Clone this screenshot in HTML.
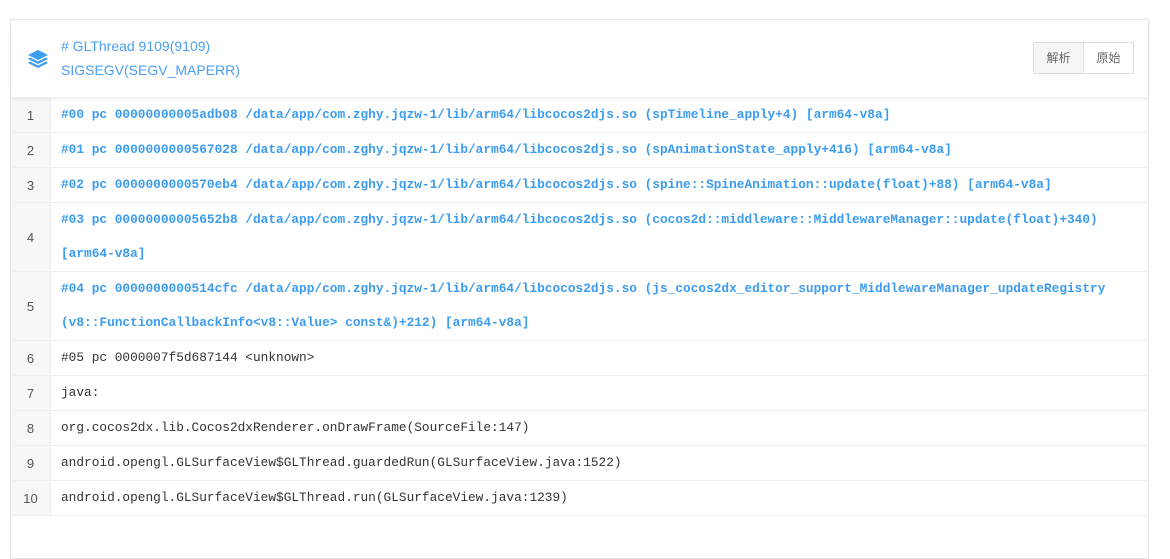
<!DOCTYPE html>
<html><head><meta charset="utf-8"><style>
html,body{margin:0;width:1170px;height:530px;background:#fff;overflow:hidden;font-family:"Liberation Sans","Noto Sans CJK SC",sans-serif;}
.card{position:absolute;left:10px;top:19px;width:1139px;height:540px;border:1px solid #e8e8e8;box-sizing:border-box;}
.hdr{position:absolute;left:0;top:0;width:1137px;height:77px;background:#fff;box-shadow:0 2px 4px rgba(0,0,0,0.08);z-index:2;}
.t1{position:absolute;left:50px;top:18px;font-size:14px;color:#4a9ff0;}
.t2{position:absolute;left:50px;top:42px;font-size:14px;color:#4a9ff0;}
.ico{position:absolute;left:17px;top:30px;}
.btns{position:absolute;left:1022px;top:22px;height:30px;border:1px solid #ddd;border-radius:2px;display:flex;font-size:12px;color:#666;}
.btns div{width:49px;line-height:30px;text-align:center}
.btns div:first-child{background:#f6f6f6;border-right:1px solid #e2e2e2}
.rows{position:absolute;left:0;top:78px;width:1137px;}
.r{display:flex;border-bottom:1px solid #eee;}
.n{width:39px;background:#f7f7f7;border-right:1px solid #eee;font-size:13px;color:#555;text-align:center;display:flex;align-items:center;justify-content:center;}
.c{padding-left:10px;font-family:"Liberation Mono",monospace;font-size:12.8px;color:#333;line-height:34px;white-space:pre;}
.b{color:#3b9cf0;font-weight:bold;}
</style></head><body>
<div class="card">
<div class="hdr">
<svg class="ico" width="20" height="18" viewBox="0 0 20 18"><path d="M10 0 L20 5 L10 10 L0 5Z" fill="#3b9cf0"/><path d="M2 7.5 L10 11.5 L18 7.5 L20 9 L10 14 L0 9Z" fill="#3b9cf0"/><path d="M2 11.5 L10 15.5 L18 11.5 L20 13 L10 18 L0 13Z" fill="#3b9cf0"/></svg>
<div class="t1"># GLThread 9109(9109)</div>
<div class="t2">SIGSEGV(SEGV_MAPERR)</div>
<div class="btns"><div>解析</div><div>原始</div></div>
</div>
<div class="rows">
<div class="r"><div class="n">1</div><div class="c b">#00 pc 00000000005adb08 /data/app/com.zghy.jqzw-1/lib/arm64/libcocos2djs.so (spTimeline_apply+4) [arm64-v8a]</div></div>
<div class="r"><div class="n">2</div><div class="c b">#01 pc 0000000000567028 /data/app/com.zghy.jqzw-1/lib/arm64/libcocos2djs.so (spAnimationState_apply+416) [arm64-v8a]</div></div>
<div class="r"><div class="n">3</div><div class="c b">#02 pc 0000000000570eb4 /data/app/com.zghy.jqzw-1/lib/arm64/libcocos2djs.so (spine::SpineAnimation::update(float)+88) [arm64-v8a]</div></div>
<div class="r"><div class="n">4</div><div class="c b">#03 pc 00000000005652b8 /data/app/com.zghy.jqzw-1/lib/arm64/libcocos2djs.so (cocos2d::middleware::MiddlewareManager::update(float)+340)
[arm64-v8a]</div></div>
<div class="r"><div class="n">5</div><div class="c b">#04 pc 0000000000514cfc /data/app/com.zghy.jqzw-1/lib/arm64/libcocos2djs.so (js_cocos2dx_editor_support_MiddlewareManager_updateRegistry
(v8::FunctionCallbackInfo&lt;v8::Value&gt; const&amp;)+212) [arm64-v8a]</div></div>
<div class="r"><div class="n">6</div><div class="c">#05 pc 0000007f5d687144 &lt;unknown&gt;</div></div>
<div class="r"><div class="n">7</div><div class="c">java:</div></div>
<div class="r"><div class="n">8</div><div class="c">org.cocos2dx.lib.Cocos2dxRenderer.onDrawFrame(SourceFile:147)</div></div>
<div class="r"><div class="n">9</div><div class="c">android.opengl.GLSurfaceView$GLThread.guardedRun(GLSurfaceView.java:1522)</div></div>
<div class="r"><div class="n">10</div><div class="c">android.opengl.GLSurfaceView$GLThread.run(GLSurfaceView.java:1239)</div></div>
</div>
</div>
</body></html>
